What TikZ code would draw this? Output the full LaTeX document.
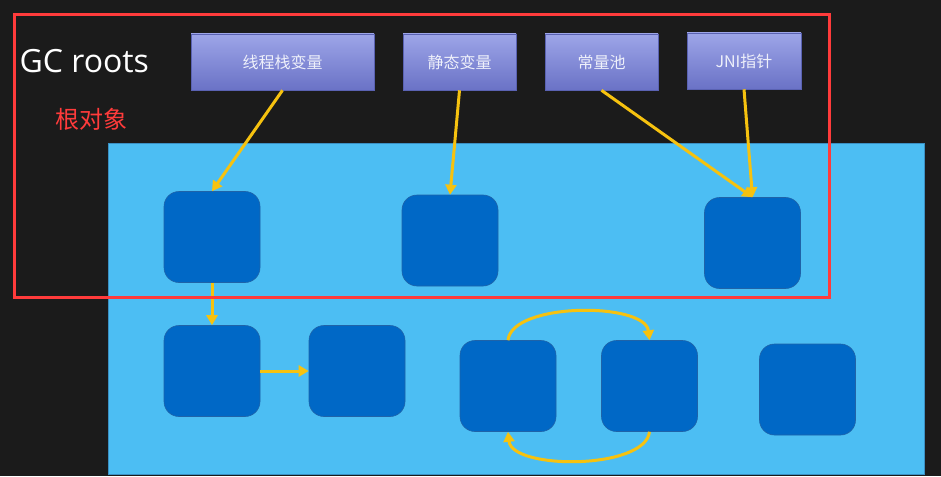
\documentclass[tikz,border=0pt]{standalone}
\usepackage{fontspec}
\setmainfont{Open Sans}
\newfontfamily\cjk{Noto Sans CJK SC}
\usetikzlibrary{arrows.meta}
\definecolor{bgdark}{HTML}{1B1B1B}
\definecolor{panelblue}{HTML}{4CBEF3}
\definecolor{paneledge}{HTML}{3A90C4}
\definecolor{objblue}{HTML}{0068C6}
\definecolor{objedge}{HTML}{1F63A8}
\definecolor{roottop}{HTML}{9DA5E8}
\definecolor{rootbot}{HTML}{6A72C6}
\definecolor{rootedge}{HTML}{5A62B2}
\definecolor{arrowyellow}{HTML}{F6C20F}
\definecolor{redline}{HTML}{FF3B3B}
\definecolor{labelwhite}{HTML}{EEF0FA}
\tikzset{
  rootbox/.style={rectangle, top color=roottop, bottom color=rootbot, draw=rootedge, line width=0.6pt,
    minimum height=56pt, inner sep=0pt, text=labelwhite, font=\cjk\fontsize{16}{18}\selectfont},
  objbox/.style={rectangle, rounded corners=15pt, fill=objblue, draw=objedge, line width=0.6pt,
    minimum width=96pt, minimum height=91pt, inner sep=0pt},
  ref/.style={draw=arrowyellow, line width=3pt, -{Triangle[length=10pt,width=11pt]}},
}
\begin{document}
\begin{tikzpicture}[x=1pt,y=-1pt]
\useasboundingbox (0,0) rectangle (941,476);
\fill[bgdark] (0,0) rectangle (941,476);
% panel
\filldraw[fill=panelblue, draw=paneledge, line width=0.8pt] (108,143) rectangle (924,474);
% titles
\node[text=white, font=\fontsize{32}{34}\selectfont, anchor=west] (gc) at (16,61) {GC roots};
\node[text=redline, font=\cjk\fontsize{24}{26}\selectfont] (gen) at (91,119) {根对象};
% root boxes
\node[rootbox, minimum width=183pt] (r1) at (282.5,62) {线程栈变量};
\node[rootbox, minimum width=113pt] (r2) at (459.5,62) {静态变量};
\node[rootbox, minimum width=113pt] (r3) at (601.5,62) {常量池};
\node[rootbox, minimum width=114pt] (r4) at (744,61) {JNI指针};
% objects
\node[objbox] (A) at (212,237) {};
\node[objbox] (B) at (450,240.5) {};
\node[objbox] (C) at (752.5,243) {};
\node[objbox] (D) at (212,371) {};
\node[objbox] (E) at (357,371) {};
\node[objbox] (F) at (508,386) {};
\node[objbox] (G) at (649.5,386) {};
\node[objbox] (H) at (807.5,389.5) {};
% references
\draw[ref] (r1.south) -- (A.north);
\draw[ref] (r2.south) -- (B.north);
\draw[ref] (r3.south) -- (C.north);
\draw[ref] (r4.south) -- (C.north);
\draw[ref] (A.south) -- (D.north);
\draw[ref] (D.east) -- (E.west);
\draw[ref] (F.north) .. controls (512,302) and (645,302) .. (G.north);
\draw[ref] (G.south) .. controls (645,470) and (512,470) .. (F.south);
% red frame
\draw[redline, line width=3pt] (14,15) rectangle (829,297);
\end{tikzpicture}
\end{document}
